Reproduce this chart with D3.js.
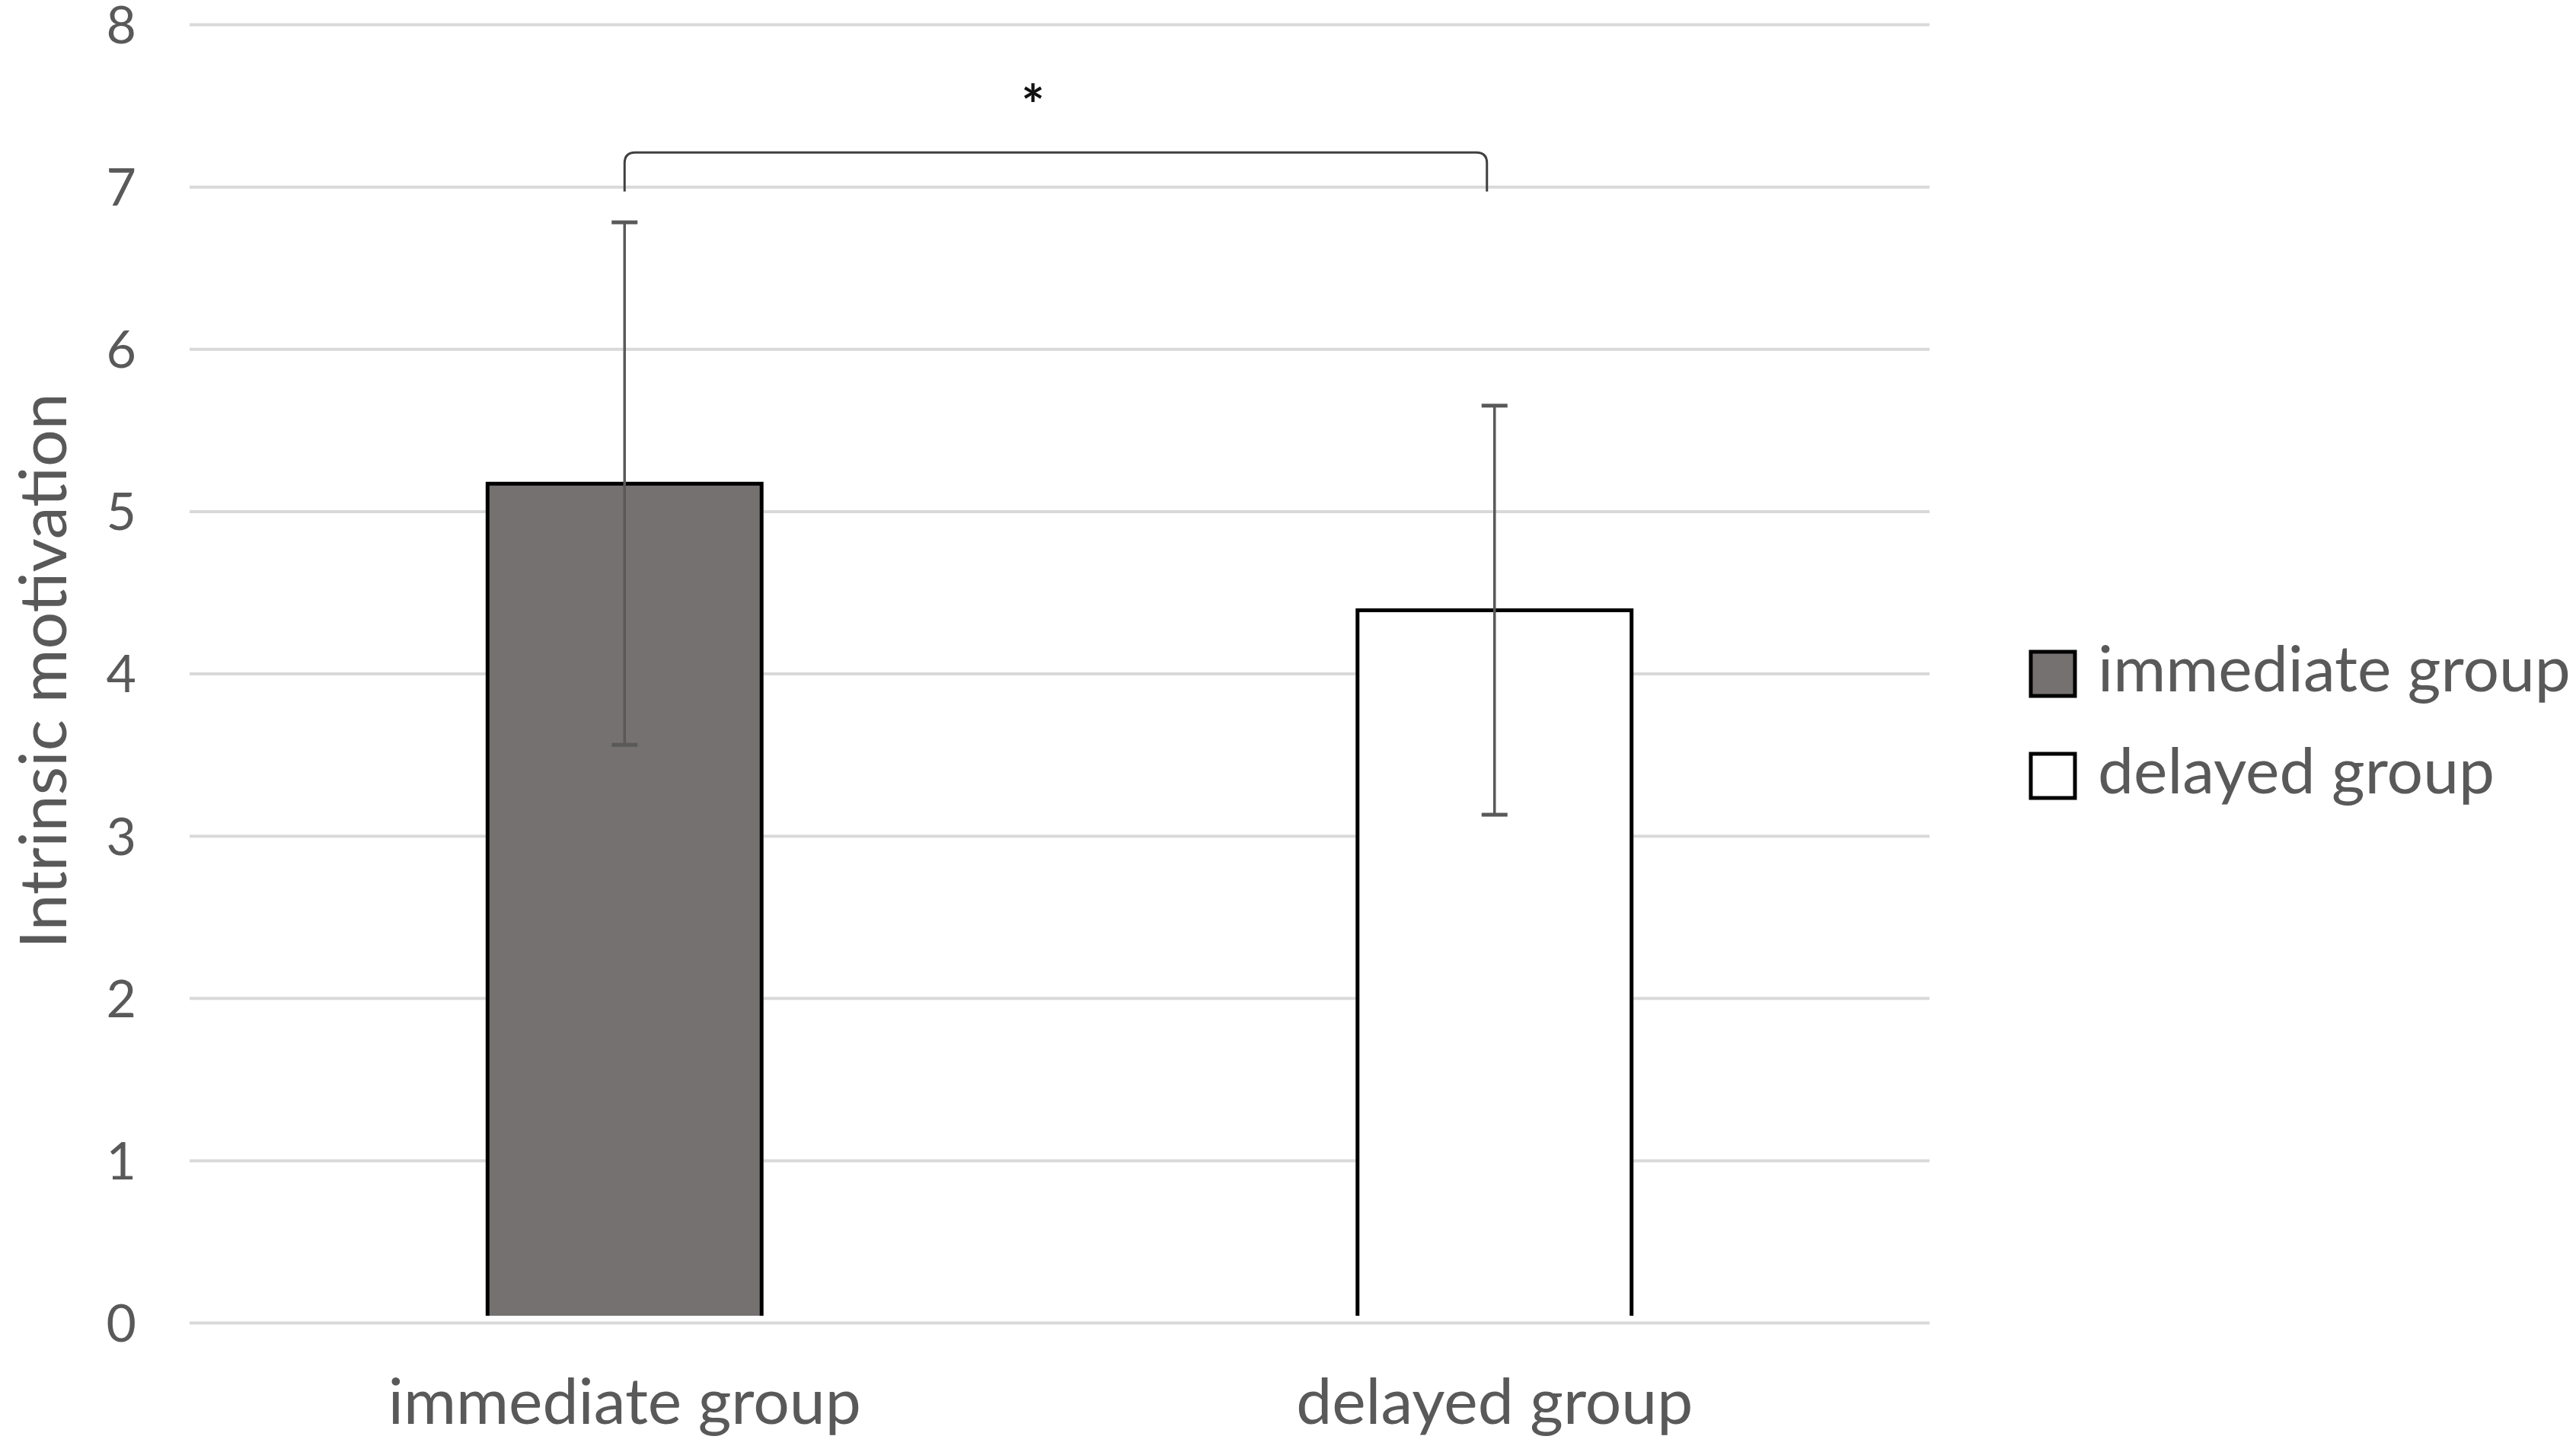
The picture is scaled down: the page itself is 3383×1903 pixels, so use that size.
<!DOCTYPE html>
<html>
<head>
<meta charset="utf-8">
<script src="https://cdn.jsdelivr.net/npm/d3@7"></script>
<style>
  html, body { margin: 0; padding: 0; background: #ffffff; }
  svg { display: block; }
</style>
</head>
<body>
<svg id="chart" width="3383" height="1903"></svg>
<script>
// ---- data ----
const categories = ["immediate group", "delayed group"];
const means = [5.17, 4.39];
const sds = [1.61, 1.26];
const fills = ["#767171", "#ffffff"];
const yTicks = [0, 1, 2, 3, 4, 5, 6, 7, 8];
const yTitle = "Intrinsic motivation";
const bracketTop = 7.21;
const bracketBottom = 6.97;
const sigLabel = "*";

// ---- layout ----
const W = 3383, H = 1903;
const plotLeft = 249, plotRight = 2534, plotTop = 32, plotBottom = 1737;
const fontFam = "Lato, 'Open Sans', sans-serif";
const textColor = "#595959";

const svg = d3.select("#chart");
svg.append("rect").attr("width", W).attr("height", H).attr("fill", "#fff");

const y = d3.scaleLinear().domain([0, 8]).range([plotBottom, plotTop]);
const x = d3.scaleBand().domain(categories).range([plotLeft, plotRight]).padding(0);
const barW = x.bandwidth() * 0.315;

// gridlines + y labels
const yAxis = d3.axisLeft(y).tickValues(yTicks).tickFormat(d3.format("d"))
  .tickSize(-(plotRight - plotLeft)).tickPadding(70);
const gy = svg.append("g").attr("transform", `translate(${plotLeft},0)`).call(yAxis);
gy.select(".domain").remove();
gy.selectAll(".tick line").attr("stroke", "#d9d9d9").attr("stroke-width", 4);
gy.selectAll(".tick text").attr("fill", textColor).attr("font-family", fontFam)
  .attr("font-size", 68).attr("dy", "0.36em");

// x labels
const xAxis = d3.axisBottom(x).tickSize(0).tickPadding(0);
const gx = svg.append("g").attr("transform", `translate(0,${plotBottom})`).call(xAxis);
gx.select(".domain").remove();
gx.selectAll(".tick text").attr("fill", textColor).attr("font-family", fontFam)
  .attr("font-size", 84).attr("y", 133).attr("dy", 0);

// bars
const bars = svg.append("g");
categories.forEach((c, i) => {
  const x0 = x(c) + x.bandwidth() / 2 - barW / 2;
  const yt = y(means[i]);
  const yb = y(0) - 9;
  bars.append("rect").attr("x", x0).attr("y", yt).attr("width", barW).attr("height", yb - yt)
    .attr("fill", fills[i]);
  bars.append("path")
    .attr("d", `M${x0},${yb}V${yt}H${x0 + barW}V${yb}`)
    .attr("fill", "none").attr("stroke", "#000").attr("stroke-width", 5);
});

// error bars
const eb = svg.append("g").attr("stroke", "#595959").attr("stroke-width", 3.5).attr("fill", "none");
categories.forEach((c, i) => {
  const cx = x(c) + x.bandwidth() / 2;
  const hi = y(means[i] + sds[i]), lo = y(means[i] - sds[i]);
  eb.append("line").attr("x1", cx).attr("x2", cx).attr("y1", hi).attr("y2", lo);
  eb.append("line").attr("x1", cx - 17).attr("x2", cx + 17).attr("y1", hi).attr("y2", hi).attr("stroke-width", 5);
  eb.append("line").attr("x1", cx - 17).attr("x2", cx + 17).attr("y1", lo).attr("y2", lo).attr("stroke-width", 5);
});

// significance bracket
const bx1 = x(categories[0]) + x.bandwidth() / 2;
const bx2 = x(categories[1]) + x.bandwidth() / 2 - 10;
const byT = y(bracketTop), byB = y(bracketBottom), r = 14;
svg.append("path")
  .attr("d", `M${bx1},${byB}V${byT + r}Q${bx1},${byT} ${bx1 + r},${byT}H${bx2 - r}Q${bx2},${byT} ${bx2},${byT + r}V${byB}`)
  .attr("fill", "none").attr("stroke", "#404040").attr("stroke-width", 3);
svg.append("text").attr("x", (bx1 + bx2) / 2 - 30).attr("y", 165)
  .attr("text-anchor", "middle").attr("font-family", fontFam).attr("font-size", 72)
  .attr("font-weight", 700).attr("fill", "#111").text(sigLabel);

// y title
svg.append("text").attr("transform", `translate(87,881) rotate(-90)`)
  .attr("text-anchor", "middle").attr("font-family", fontFam).attr("font-size", 86)
  .attr("fill", textColor).text(yTitle);

// legend
const leg = svg.append("g");
const legY = [856, 990];
categories.forEach((c, i) => {
  leg.append("rect").attr("x", 2667).attr("y", legY[i]).attr("width", 58).attr("height", 58)
    .attr("fill", fills[i]).attr("stroke", "#000").attr("stroke-width", 5);
  leg.append("text").attr("x", 2755).attr("y", legY[i] + 52)
    .attr("font-family", fontFam).attr("font-size", 84).attr("fill", textColor).text(c);
});
</script>
</body>
</html>
